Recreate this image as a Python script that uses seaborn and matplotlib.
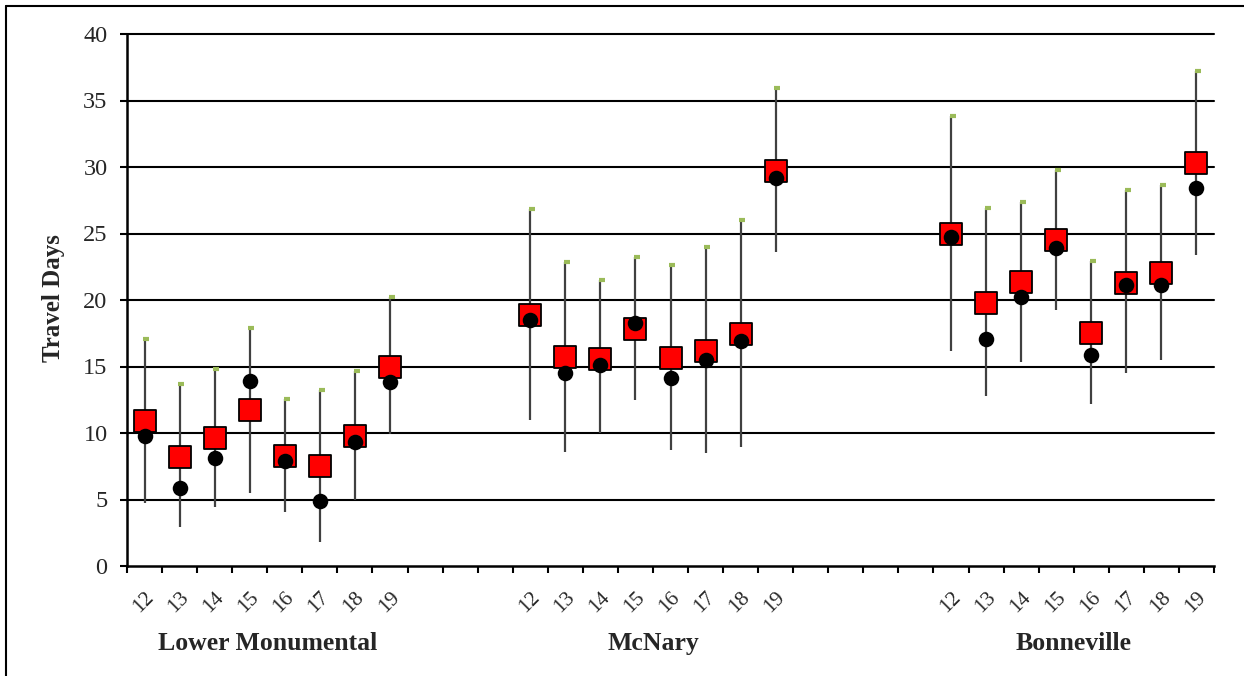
import matplotlib
matplotlib.use("Agg")
import matplotlib.pyplot as plt
from matplotlib.lines import Line2D
import numpy as np
import pandas as pd
import seaborn as sns

# ---- data ----
sites = ["Lower Monumental", "McNary", "Bonneville"]
years = ["12", "13", "14", "15", "16", "17", "18", "19"]

lm_square = [10.9, 8.2, 9.6, 11.7, 8.3, 7.5, 9.8, 15.0]
lm_circle = [9.8, 5.9, 8.1, 13.9, 7.9, 4.9, 9.3, 13.8]
lm_high = [17.1, 13.7, 14.8, 17.9, 12.55, 13.25, 14.65, 20.2]
lm_low = [4.7, 2.9, 4.4, 5.5, 4.05, 1.8, 5.0, 9.95]

mc_square = [18.9, 15.7, 15.6, 17.85, 15.65, 16.2, 17.45, 29.7]
mc_circle = [18.5, 14.5, 15.1, 18.3, 14.1, 15.5, 16.9, 29.2]
mc_high = [26.85, 22.85, 21.5, 23.25, 22.65, 23.95, 26.0, 35.95]
mc_low = [11.0, 8.6, 10.0, 12.5, 8.75, 8.5, 8.95, 23.6]

bo_square = [24.95, 19.8, 21.35, 24.5, 17.5, 21.3, 22.0, 30.3]
bo_circle = [24.7, 17.1, 20.2, 23.9, 15.9, 21.1, 21.1, 28.4]
bo_high = [33.8, 26.9, 27.4, 29.8, 22.9, 28.25, 28.65, 37.25]
bo_low = [16.2, 12.8, 15.35, 19.25, 12.2, 14.5, 15.5, 23.35]

group_start = [0, 11, 23]   # category slot where each site begins
n_slots = 31

squares = [lm_square, mc_square, bo_square]
circles = [lm_circle, mc_circle, bo_circle]
highs = [lm_high, mc_high, bo_high]
lows = [lm_low, mc_low, bo_low]

rows = []
for gi, site in enumerate(sites):
    for yi, yr in enumerate(years):
        rows.append(dict(site=site, year=yr,
                         x=group_start[gi] + yi + 0.5,
                         square=squares[gi][yi], circle=circles[gi][yi],
                         high=highs[gi][yi], low=lows[gi][yi]))
df = pd.DataFrame(rows)

sns.set_theme(style="white")
plt.rcParams["font.family"] = ["Liberation Serif", "DejaVu Serif"]

fig = plt.figure(figsize=(12.44, 6.76), dpi=100)
ax = fig.add_axes([127 / 1244, 1 - 566 / 676, (1214 - 127) / 1244, (566 - 34) / 676])

# gridlines
for v in np.arange(5, 41, 5):
    ax.axhline(v, color="black", lw=1.5, zorder=1, clip_on=False)

# whiskers
ax.vlines(df["x"], df["low"], df["high"], color="#404040", lw=1.6, zorder=2)
ax.plot(df["x"] + 0.05, df["high"], ls="none", marker="_", ms=5, mew=3,
        color="#9BBB59", zorder=2, clip_on=False)

sns.scatterplot(data=df, x="x", y="square", marker="s", s=250, color="#FF0000",
                edgecolor="black", linewidth=1.3, ax=ax, zorder=3, legend=False)
sns.scatterplot(data=df, x="x", y="circle", marker="o", s=125, color="black",
                edgecolor="black", linewidth=0, ax=ax, zorder=4, legend=False)

ax.set_xlim(0, n_slots)
ax.set_ylim(0, 40)
ax.set_yticks(np.arange(0, 41, 5))
ax.set_yticklabels([str(v) for v in range(0, 41, 5)], fontsize=17.5)
ax.tick_params(axis="y", direction="out", length=5, width=1.5, color="black",
               left=True, pad=9)

ax.set_xticks(np.arange(0, n_slots + 1, 1))
ax.set_xticklabels([])
ax.set_xticks(df["x"], minor=True)
ax.set_xticklabels(df["year"], minor=True, rotation=45, ha="right",
                   rotation_mode="anchor", fontsize=15.5)
ax.tick_params(axis="x", which="major", direction="out", length=5, width=1.5,
               color="black", bottom=True)
ax.tick_params(axis="x", which="minor", length=0, pad=16)

for side in ["top", "right"]:
    ax.spines[side].set_visible(False)
for side in ["left", "bottom"]:
    ax.spines[side].set_color("black")
    ax.spines[side].set_linewidth(1.8)
ax.set_xlabel("")
ax.set_ylabel("Travel Days", fontsize=18, fontweight="bold")
ax.yaxis.set_label_coords(-0.057, 0.504)

for gi, site in enumerate(sites):
    ax.text(group_start[gi] + 4, -0.145, site, transform=ax.get_xaxis_transform(),
            ha="center", va="center", fontsize=18.5, fontweight="bold")

# outer border (top and left visible)
fig.add_artist(Line2D([6 / 1244, 6 / 1244], [0, 1 - 6 / 676], color="black", lw=1.5))
fig.add_artist(Line2D([6 / 1244, 1], [1 - 6 / 676, 1 - 6 / 676], color="black", lw=1.5))

fig.savefig("out.png", dpi=100)
